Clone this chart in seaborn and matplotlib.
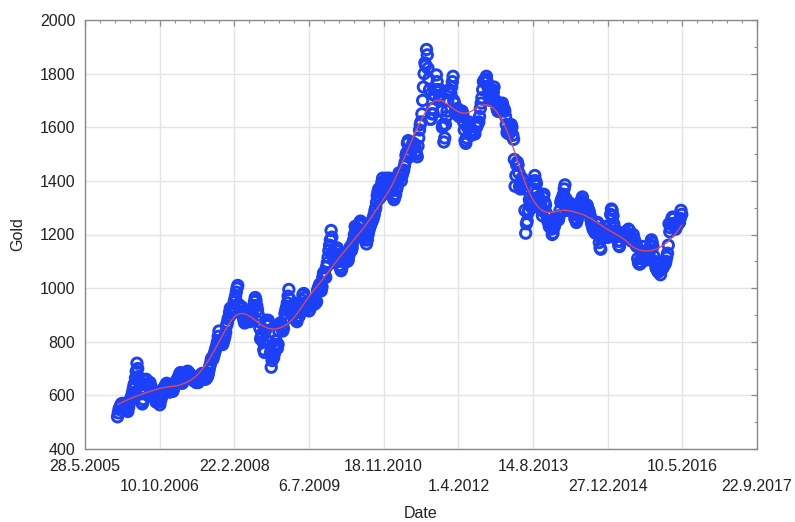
import numpy as np
import pandas as pd
import matplotlib
matplotlib.use("Agg")
import matplotlib.pyplot as plt
import matplotlib.dates as mdates
from matplotlib.ticker import AutoMinorLocator
import seaborn as sns

# ---- data: gold price readings (USD/oz), 6 per month, from Jan 2006 ----
start_month = "2006-01"
read_days = [1, 6, 11, 16, 21, 26]
gold_2006 = [520, 535, 548, 555, 560, 568,  570, 562, 552, 548, 555, 560,
             558, 548, 540, 555, 570, 583,  590, 598, 610, 625, 638, 645,
             665, 690, 720, 700, 670, 650,  640, 610, 575, 568, 585, 612,
             625, 640, 660, 655, 640, 632,  640, 648, 635, 628, 620, 615,
             608, 595, 585, 575, 590, 600,  590, 575, 565, 580, 590, 600,
             618, 625, 630, 635, 640, 645,  640, 630, 620, 612, 620, 632]
gold_2007 = [630, 615, 625, 632, 645, 650,  655, 660, 665, 672, 680, 685,
             670, 650, 645, 655, 660, 665,  670, 678, 688, 690, 685, 680,
             680, 670, 665, 660, 660, 655,  660, 652, 648, 655, 650, 648,
             655, 662, 668, 678, 682, 670,  665, 672, 660, 662, 665, 670,
             680, 695, 710, 720, 735, 740,  735, 745, 755, 765, 775, 785,
             800, 820, 840, 805, 795, 790,  800, 790, 800, 810, 820, 835]
gold_2008 = [860, 870, 885, 890, 910, 925,  915, 905, 910, 930, 950, 960,
             970, 985, 1000, 1010, 940, 930, 915, 925, 930, 910, 895, 880,
             870, 880, 890, 895, 910, 905,  895, 875, 880, 890, 905, 925,
             935, 950, 965, 955, 935, 920,  900, 875, 850, 810, 820, 830,
             800, 770, 760, 840, 870, 880,  860, 880, 865, 800, 760, 705,
             730, 750, 740, 755, 790, 805,  780, 775, 790, 840, 860, 870]
gold_2009 = [870, 855, 840, 850, 880, 905,  920, 930, 945, 970, 995, 960,
             930, 910, 915, 930, 935, 920,  905, 885, 880, 875, 890, 895,
             895, 910, 925, 940, 955, 975,  980, 965, 945, 935, 930, 940,
             930, 915, 920, 935, 950, 955,  955, 945, 940, 945, 945, 950,
             990, 1000, 1005, 1015, 1000, 990, 1005, 1040, 1055, 1060, 1045, 1040,
             1080, 1095, 1115, 1140, 1160, 1180, 1215, 1190, 1135, 1115, 1105, 1095]
gold_2010 = [1120, 1140, 1150, 1125, 1100, 1085, 1075, 1065, 1075, 1100, 1115, 1110,
             1120, 1130, 1110, 1120, 1100, 1105, 1125, 1150, 1155, 1140, 1150, 1170,
             1180, 1200, 1230, 1220, 1190, 1210, 1220, 1235, 1245, 1250, 1240, 1240,
             1210, 1200, 1205, 1190, 1180, 1165, 1180, 1200, 1215, 1225, 1235, 1240,
             1250, 1255, 1265, 1275, 1290, 1300, 1320, 1345, 1360, 1370, 1335, 1340,
             1360, 1395, 1410, 1350, 1360, 1370, 1400, 1410, 1395, 1380, 1385, 1410]
gold_2011 = [1390, 1375, 1370, 1365, 1340, 1330, 1340, 1350, 1365, 1375, 1395, 1410,
             1430, 1420, 1425, 1400, 1420, 1430, 1440, 1455, 1470, 1495, 1505, 1540,
             1550, 1510, 1490, 1500, 1520, 1525, 1540, 1540, 1530, 1525, 1510, 1500,
             1490, 1530, 1560, 1590, 1610, 1620, 1650, 1700, 1750, 1800, 1840, 1830,
             1890, 1870, 1820, 1780, 1740, 1630, 1630, 1650, 1670, 1650, 1720, 1720,
             1740, 1795, 1770, 1740, 1700, 1710, 1740, 1720, 1660, 1600, 1610, 1545]
gold_2012 = [1560, 1610, 1640, 1660, 1700, 1730, 1740, 1730, 1725, 1750, 1770, 1790,
             1700, 1690, 1660, 1650, 1660, 1670, 1660, 1640, 1650, 1640, 1645, 1660,
             1650, 1620, 1590, 1550, 1540, 1560, 1600, 1610, 1620, 1600, 1580, 1570,
             1590, 1585, 1580, 1580, 1575, 1610, 1600, 1610, 1615, 1620, 1640, 1670,
             1690, 1710, 1740, 1770, 1775, 1770, 1780, 1790, 1770, 1750, 1730, 1710,
             1700, 1720, 1730, 1740, 1730, 1750, 1700, 1700, 1690, 1670, 1660, 1660]
gold_2013 = [1680, 1660, 1665, 1685, 1690, 1670, 1670, 1660, 1640, 1610, 1580, 1590,
             1580, 1575, 1590, 1600, 1610, 1600, 1570, 1555, 1480, 1380, 1420, 1460,
             1470, 1460, 1430, 1380, 1370, 1390, 1410, 1400, 1385, 1370, 1290, 1205,
             1240, 1250, 1280, 1290, 1330, 1320, 1310, 1300, 1320, 1370, 1400, 1420,
             1400, 1390, 1360, 1310, 1340, 1330, 1310, 1320, 1290, 1270, 1340, 1350,
             1320, 1310, 1280, 1270, 1250, 1250, 1230, 1240, 1230, 1220, 1200, 1205]
gold_2014 = [1225, 1235, 1245, 1250, 1260, 1260, 1255, 1270, 1290, 1320, 1330, 1335,
             1340, 1350, 1370, 1385, 1335, 1300, 1290, 1300, 1320, 1300, 1290, 1295,
             1300, 1310, 1295, 1290, 1260, 1255, 1245, 1255, 1270, 1275, 1315, 1320,
             1320, 1330, 1340, 1310, 1300, 1300, 1290, 1305, 1310, 1300, 1290, 1285,
             1270, 1255, 1240, 1230, 1220, 1215, 1210, 1205, 1225, 1240, 1245, 1215,
             1170, 1150, 1145, 1185, 1195, 1190, 1200, 1210, 1230, 1200, 1190, 1195]
gold_2015 = [1190, 1215, 1235, 1275, 1295, 1290, 1270, 1240, 1225, 1210, 1205, 1210,
             1200, 1175, 1160, 1155, 1175, 1200, 1200, 1205, 1200, 1195, 1185, 1210,
             1190, 1185, 1195, 1220, 1215, 1190, 1180, 1175, 1180, 1200, 1185, 1175,
             1170, 1160, 1155, 1110, 1095, 1090, 1090, 1095, 1110, 1120, 1155, 1130,
             1130, 1120, 1105, 1115, 1135, 1145, 1115, 1140, 1160, 1180, 1170, 1155,
             1120, 1100, 1090, 1075, 1070, 1065, 1060, 1070, 1075, 1050, 1070, 1075]
gold_2016 = [1075, 1085, 1095, 1090, 1100, 1115, 1130, 1160, 1240, 1210, 1225, 1240,
             1260, 1265, 1260, 1240, 1240, 1220, 1230, 1235, 1240, 1250, 1245, 1260,
             1290, 1275]

xtick_labels = ["28.5.2005", "10.10.2006", "22.2.2008", "6.7.2009", "18.11.2010",
                "1.4.2012", "14.8.2013", "27.12.2014", "10.5.2016", "22.9.2017"]
ytick_values = [400, 600, 800, 1000, 1200, 1400, 1600, 1800, 2000]

# ---- build table ----
gold = (gold_2006 + gold_2007 + gold_2008 + gold_2009 + gold_2010 + gold_2011 +
        gold_2012 + gold_2013 + gold_2014 + gold_2015 + gold_2016)
n_months = -(-len(gold) // len(read_days))
months = pd.period_range(start_month, periods=n_months, freq="M")
dates = [pd.Timestamp(year=m.year, month=m.month, day=d) for m in months for d in read_days]
df = pd.DataFrame({"Date": dates[:len(gold)], "Gold": gold})
df["x"] = mdates.date2num(df["Date"])

# local quadratic smoother (tricube weights) computed from the data
def local_smooth(x, y, frac, deg=2):
    n = len(x)
    k = max(deg + 2, int(frac * n))
    out = np.empty(n)
    for i, xi in enumerate(x):
        d = np.abs(x - xi)
        h = np.sort(d)[k - 1]
        w = np.clip(1 - (d / h) ** 3, 0, None) ** 3
        t = (x - xi) / h
        A = np.vander(t, deg + 1, increasing=True)
        sw = np.sqrt(w)
        coef, *_ = np.linalg.lstsq(A * sw[:, None], y * sw, rcond=None)
        out[i] = coef[0]
    return out

df["Fit"] = local_smooth(df["x"].to_numpy(float), df["Gold"].to_numpy(float), 0.2)

# ---- plot ----
sns.set_style("white")
plt.rcParams["font.family"] = ["Liberation Sans", "DejaVu Sans"]

fig = plt.figure(figsize=(7.95, 5.22), dpi=100)
ax = fig.add_axes([85 / 795, 73 / 522, 672 / 795, 429 / 522])

blue = "#1c40f8"
sns.scatterplot(data=df, x="x", y="Gold", ax=ax, marker="o", s=56,
                facecolor="none", edgecolor=blue, linewidth=2.1, zorder=3)
sns.lineplot(data=df, x="x", y="Fit", ax=ax, color="#ee4a4a", linewidth=0.9,
             zorder=4, estimator=None)

xt = [mdates.date2num(pd.to_datetime(s, format="%d.%m.%Y")) for s in xtick_labels]
ax.set_xlim(xt[0], xt[-1])
ax.set_ylim(ytick_values[0], ytick_values[-1])
ax.set_xticks(xt)
ax.set_xticklabels(xtick_labels)
ax.set_yticks(ytick_values)
ax.xaxis.set_minor_locator(AutoMinorLocator(5))
ax.yaxis.set_minor_locator(AutoMinorLocator(2))

ax.grid(True, which="major", color="#e4e4e4", linewidth=1.0)
ax.set_axisbelow(True)
for sp in ax.spines.values():
    sp.set_color("#8a8a8a")
    sp.set_linewidth(1.0)

fs = 11.5
ax.tick_params(which="both", direction="in", top=True, right=True,
               colors="#8a8a8a", labelcolor="#222222", labelsize=fs)
ax.tick_params(which="major", length=4, width=0.9)
ax.tick_params(which="minor", length=2.5, width=0.8)
ax.tick_params(axis="y", pad=7)
ax.tick_params(axis="x", pad=7)
for i, t in enumerate(ax.xaxis.get_major_ticks()):
    if i % 2 == 1:
        t.set_pad(21.5)

ax.set_xlabel("Date", fontsize=fs, color="#222222")
ax.set_ylabel("Gold", fontsize=fs, color="#222222")
ax.yaxis.set_label_coords((25 - 85) / 672, 0.5)
ax.xaxis.set_label_coords(0.5, -(506 - 449) / 429)

fig.savefig("out.png", dpi=100)
